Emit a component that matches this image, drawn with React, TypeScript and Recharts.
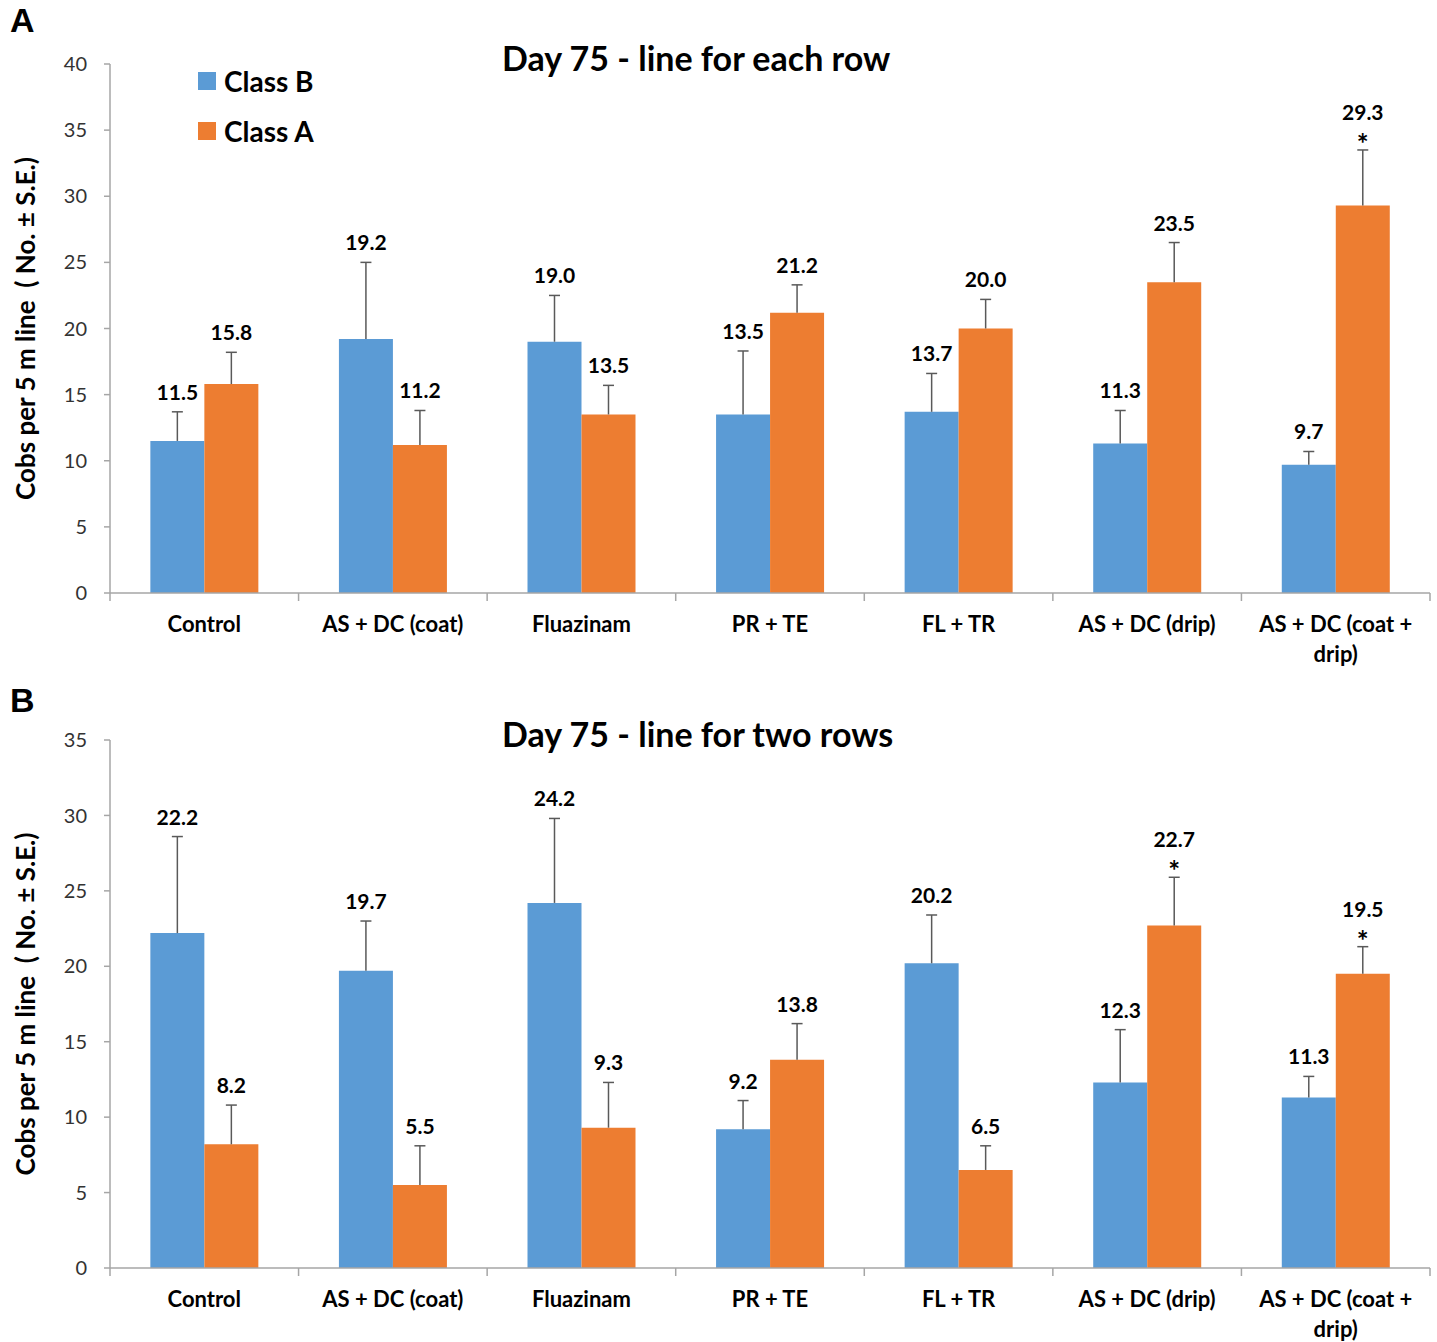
import { BarChart, Bar, XAxis, YAxis, LabelList } from "recharts";

const categories = [
  "Control",
  "AS + DC (coat)",
  "Fluazinam",
  "PR + TE",
  "FL + TR",
  "AS + DC (drip)",
  "AS + DC (coat +\ndrip)",
];

// Panel A - line for each row
const eachRowClassB = [11.5, 19.2, 19.0, 13.5, 13.7, 11.3, 9.7];
const eachRowClassA = [15.8, 11.2, 13.5, 21.2, 20.0, 23.5, 29.3];
const eachRowErrB = [2.2, 5.8, 3.5, 4.8, 2.9, 2.5, 1.0];
const eachRowErrA = [2.4, 2.6, 2.2, 2.1, 2.2, 3.0, 4.2];
const eachRowStarA = [false, false, false, false, false, false, true];
const eachRowTicks = [0, 5, 10, 15, 20, 25, 30, 35, 40];

// Panel B - line for two rows
const twoRowsClassB = [22.2, 19.7, 24.2, 9.2, 20.2, 12.3, 11.3];
const twoRowsClassA = [8.2, 5.5, 9.3, 13.8, 6.5, 22.7, 19.5];
const twoRowsErrB = [6.4, 3.3, 5.6, 1.9, 3.2, 3.5, 1.4];
const twoRowsErrA = [2.6, 2.6, 3.0, 2.4, 1.6, 3.2, 1.8];
const twoRowsStarA = [false, false, false, false, false, true, true];
const twoRowsTicks = [0, 5, 10, 15, 20, 25, 30, 35];

const series = [
  { key: "classB", name: "Class B", color: "#5b9bd5" },
  { key: "classA", name: "Class A", color: "#ed7d31" },
];

const noStars = categories.map(() => false);

const AXIS = "#a6a6a6";
const ERR = "#595959";
const FONT = "Lato, 'Noto Sans', sans-serif";

const buildRows = (b: number[], a: number[]) =>
  categories.map((name, i) => ({ name, classB: b[i], classA: a[i] }));

// error bar (upper half only) + value label + optional significance star
const makeValueLabel = (errors: number[], stars: boolean[]) => (props: any) => {
  const { x, y, width, height, value, index } = props;
  const v = Number(value);
  const ppu = v ? Number(height) / v : 0;
  const top = Number(y) - errors[index] * ppu;
  const cx = Number(x) + Number(width) / 2;
  const star = stars[index];
  return (
    <g>
      <line x1={cx} y1={Number(y)} x2={cx} y2={top} stroke={ERR} strokeWidth={1.5} />
      <line x1={cx - 5.5} y1={top} x2={cx + 5.5} y2={top} stroke={ERR} strokeWidth={1.5} />
      {star && (
        <text x={cx} y={top + 4} textAnchor="middle" fontFamily={FONT} fontWeight={700} fontSize={28} fill="#000">
          *
        </text>
      )}
      <text
        x={cx}
        y={star ? top - 30 : top - 12}
        textAnchor="middle"
        fontFamily={FONT}
        fontWeight={700}
        fontSize={21}
        fill="#000"
      >
        {v.toFixed(1)}
      </text>
    </g>
  );
};

const CategoryTick = (props: any) => {
  const { x, y, payload, index } = props;
  const half = payload && payload.offset ? payload.offset : 94.3;
  const last = index === categories.length - 1;
  const lines = String(payload.value).split("\n");
  return (
    <g>
      <line x1={x - half} y1={y} x2={x - half} y2={y + 8} stroke={AXIS} strokeWidth={1.5} />
      {last && <line x1={x + half} y1={y} x2={x + half} y2={y + 8} stroke={AXIS} strokeWidth={1.5} />}
      <text x={x} y={y + 39} textAnchor="middle" fontFamily={FONT} fontWeight={700} fontSize={22} fill="#000">
        {lines.map((ln, i) => (
          <tspan key={i} x={x} dy={i === 0 ? 0 : 30}>
            {ln}
          </tspan>
        ))}
      </text>
    </g>
  );
};

interface PanelProps {
  letter: string;
  title: string;
  height: number;
  top: number;
  xAxisHeight: number;
  domainMax: number;
  ticks: number[];
  classB: number[];
  classA: number[];
  errB: number[];
  errA: number[];
  starA: boolean[];
  showLegend: boolean;
}

const Panel = (p: PanelProps) => {
  const data = buildRows(p.classB, p.classA);
  const plotH = p.domainMax === 40 ? 529 : 528;
  return (
    <div style={{ position: "relative", width: 1437, height: p.height }}>
      <BarChart
        width={1437}
        height={p.height}
        data={data}
        margin={{ top: p.top, right: 7, left: 50, bottom: p.height - p.top - plotH - p.xAxisHeight }}
        barCategoryGap="21.4%"
        barGap={0}
      >
        <XAxis
          dataKey="name"
          stroke={AXIS}
          strokeWidth={1.5}
          tickLine={false}
          tickSize={0}
          tickMargin={0}
          height={p.xAxisHeight}
          interval={0}
          tick={<CategoryTick />}
        />
        <YAxis
          width={60}
          domain={[0, p.domainMax]}
          ticks={p.ticks}
          interval={0}
          stroke={AXIS}
          strokeWidth={1.5}
          tickSize={6}
          tickMargin={17}
          tick={{ fill: "#333", fontSize: 20, fontFamily: FONT }}
          label={{
            value: "Cobs per 5 m line\u00a0\u00a0( No. \u00b1 S.E.)",
            angle: -90,
            position: "left",
            offset: 24,
            style: { fill: "#000", fontSize: 26, fontWeight: 700, fontFamily: FONT, textAnchor: "middle" },
          }}
        />
        <Bar dataKey="classB" name="Class B" fill={series[0].color} isAnimationActive={false}>
          <LabelList dataKey="classB" content={makeValueLabel(p.errB, noStars)} />
        </Bar>
        <Bar dataKey="classA" name="Class A" fill={series[1].color} isAnimationActive={false}>
          <LabelList dataKey="classA" content={makeValueLabel(p.errA, p.starA)} />
        </Bar>
      </BarChart>
      <div
        style={{
          position: "absolute",
          left: 10,
          top: 0,
          fontFamily: "Arial, 'Liberation Sans', sans-serif",
          fontWeight: 700,
          fontSize: 34,
          lineHeight: "40px",
        }}
      >
        {p.letter}
      </div>
      <div
        style={{
          position: "absolute",
          left: 502,
          top: p.letter === "A" ? 36 : 32,
          fontFamily: FONT,
          fontWeight: 700,
          fontSize: 34,
          lineHeight: "44px",
          whiteSpace: "nowrap",
        }}
      >
        {p.title}
      </div>
      {p.showLegend && (
        <div
          style={{
            position: "absolute",
            left: 198,
            top: 56,
            fontFamily: FONT,
            fontWeight: 700,
            fontSize: 28,
            color: "#000",
          }}
        >
          {series.map((s) => (
            <div key={s.key} style={{ display: "flex", alignItems: "center", height: 50 }}>
              <span style={{ width: 18, height: 18, background: s.color, marginRight: 8, display: "inline-block" }} />
              {s.name}
            </div>
          ))}
        </div>
      )}
    </div>
  );
};

export default function App() {
  return (
    <div style={{ position: "absolute", left: 0, top: 0, width: 1437, height: 1342, background: "#fff" }}>
      <Panel
        letter="A"
        title="Day 75 - line for each row"
        height={680}
        top={64}
        xAxisHeight={80}
        domainMax={40}
        ticks={eachRowTicks}
        classB={eachRowClassB}
        classA={eachRowClassA}
        errB={eachRowErrB}
        errA={eachRowErrA}
        starA={eachRowStarA}
        showLegend={true}
      />
      <Panel
        letter="B"
        title="Day 75 - line for two rows"
        height={662}
        top={60}
        xAxisHeight={70}
        domainMax={35}
        ticks={twoRowsTicks}
        classB={twoRowsClassB}
        classA={twoRowsClassA}
        errB={twoRowsErrB}
        errA={twoRowsErrA}
        starA={twoRowsStarA}
        showLegend={false}
      />
    </div>
  );
}
